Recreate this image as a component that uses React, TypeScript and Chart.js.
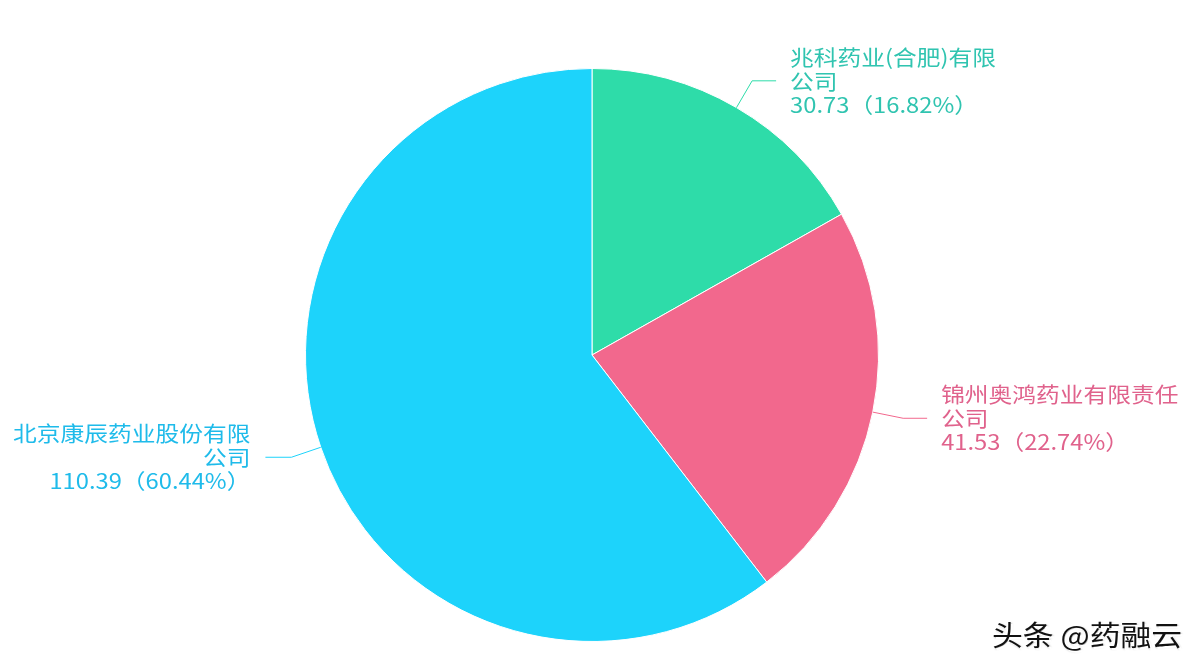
import React, { useEffect, useRef } from 'react'
import { Chart, registerables } from "chart.js";

Chart.register(...registerables);

// company names, split into the two lines shown on the chart
const nameLines: string[][] = [
    ["兆科药业(合肥)有限", "公司"],
    ["锦州奥鸿药业有限责任", "公司"],
    ["北京康辰药业股份有限", "公司"],
];
const values: number[] = [30.73, 41.53, 110.39];
const sliceColors: string[] = ["#2EDCA9", "#F2688D", "#1DD3FB"];
const textColors: string[] = ["#30c4b0", "#e0628c", "#1fbbea"];

const FONT = '"Noto Sans CJK SC", "Noto Sans", sans-serif';

const pieLabels = {
    id: "pieLabels",
    afterDraw(chart: Chart) {
        const ctx = chart.ctx;
        const meta = chart.getDatasetMeta(0);
        const total = values.reduce((a, b) => a + b, 0);
        meta.data.forEach((el: any, i: number) => {
            const { x, y, startAngle, endAngle, outerRadius } = el.getProps(
                ["x", "y", "startAngle", "endAngle", "outerRadius"], true);
            const mid = (startAngle + endAngle) / 2;
            const cos = Math.cos(mid);
            const sin = Math.sin(mid);
            const right = cos >= 0;
            const p0x = x + cos * outerRadius;
            const p0y = y + sin * outerRadius;
            const p1x = x + cos * (outerRadius + 31);
            const p1y = y + sin * (outerRadius + 31);
            const p2x = p1x + (right ? 24 : -26);

            ctx.save();
            ctx.strokeStyle = sliceColors[i];
            ctx.lineWidth = 1;
            ctx.beginPath();
            ctx.moveTo(p0x, p0y);
            ctx.lineTo(p1x, p1y);
            ctx.lineTo(p2x, p1y);
            ctx.stroke();

            const pct = ((values[i] / total) * 100).toFixed(2);
            const lines = [...nameLines[i], `${values[i]}（${pct}%）`];
            const tx = p2x + (right ? 14 : -15);
            ctx.fillStyle = textColors[i];
            ctx.font = `21px ${FONT}`;
            ctx.textBaseline = "middle";
            ctx.textAlign = right ? "left" : "right";
            lines.forEach((line, k) => {
                ctx.save();
                ctx.translate(tx, p1y + (k - 1) * 24);
                ctx.scale(1.13, 1);
                ctx.fillText(line, 0, 0);
                ctx.restore();
            });
            ctx.restore();
        });
    },
};

const PieChart: React.FC = () => {
    const chartRef = useRef<HTMLCanvasElement | null>(null);

    useEffect(() => {
        document.body.style.margin = "0";
        const ctx = chartRef.current?.getContext("2d");
        if (!ctx) return;

        const chart = new Chart(ctx, {
            type: "pie",
            data: {
                labels: nameLines.map((l) => l.join("")),
                datasets: [
                    {
                        data: values,
                        backgroundColor: sliceColors,
                        borderColor: "#ffffff",
                        borderWidth: 1,
                        hoverOffset: 0,
                    },
                ],
            },
            options: {
                animation: false,
                responsive: true,
                maintainAspectRatio: false,
                layout: {
                    padding: { top: 68, bottom: 30, left: 305, right: 323 },
                },
                plugins: {
                    legend: { display: false },
                    tooltip: { enabled: false },
                },
            },
            plugins: [pieLabels],
        });

        return () => {
            chart.destroy();
        };
    }, []);

    return (
        <div style={{ position: "relative", width: 1202, height: 672, background: "#fff" }}>
            <canvas ref={chartRef}></canvas>
            <div
                style={{
                    position: "absolute",
                    left: 992,
                    top: 614,
                    fontFamily: FONT,
                    fontSize: 28,
                    color: "#111",
                    whiteSpace: "nowrap",
                    transform: "scaleX(1.1)",
                    transformOrigin: "left top",
                    textShadow: "2px 2px 0 #fff, -1px -1px 0 #fff, 1px 1px 2px rgba(0,0,0,0.3)",
                }}
            >
                头条 @药融云
            </div>
        </div>
    );
};

export default function App() {
    return <PieChart />;
}
